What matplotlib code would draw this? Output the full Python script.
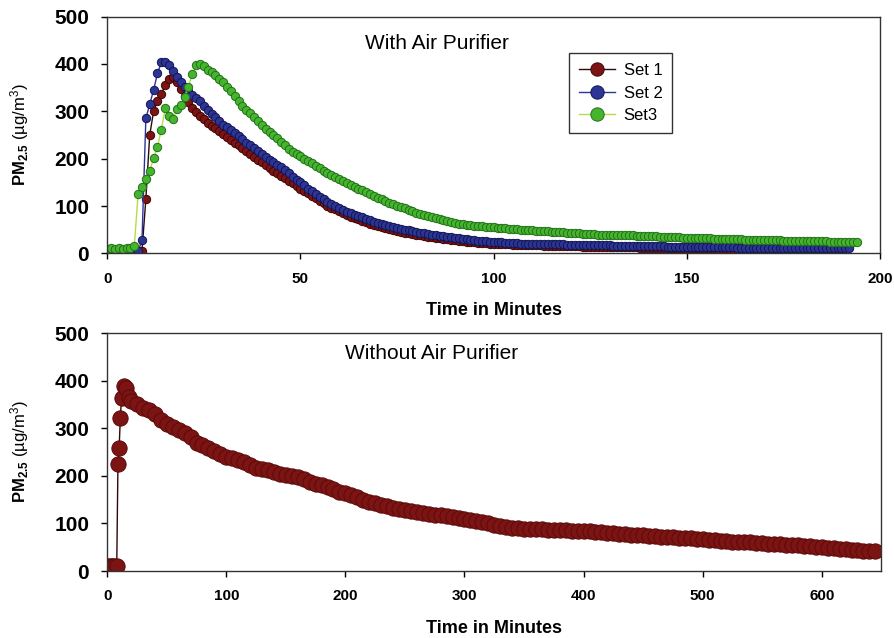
import matplotlib
matplotlib.use("Agg")
import matplotlib.pyplot as plt

plt.rcParams["font.family"] = ["Liberation Sans", "DejaVu Sans"]
plt.rcParams["mathtext.fontset"] = "custom"
plt.rcParams["mathtext.rm"] = "Liberation Sans"
plt.rcParams["mathtext.bf"] = "Liberation Sans:bold"
plt.rcParams["mathtext.it"] = "Liberation Sans:italic"

# ---- data ----
# top panel: one reading per minute
top_time = list(range(0, 195))

set1 = [5, 5, 5, 5, 5, 5, 5, 5, 5, 6,
        115, 250, 300, 322, 336, 356, 368, 373, 362, 348,
        333, 320, 308, 298, 290, 283, 276, 270, 264, 258,
        252, 246, 240, 234, 228, 222, 216, 210, 204, 198,
        192, 186,
        180, 175, 170, 164, 159, 153, 148, 142, 137, 132,
        127, 122, 117, 111, 106, 101, 97, 93, 89, 85,
        81, 78, 75, 72, 69, 66, 63, 60, 58, 56,
        54, 52, 50, 48, 46, 44, 43, 41, 40, 38,
        37, 35, 34, 33, 32, 31, 30, 29, 28, 27,
        26, 25, 24, 24, 23, 22, 22, 21, 21, 20,
        20, 19, 19, 18, 18, 18, 18, 17, 17, 17,
        17, 16, 16, 16, 16, 15, 15, 15, 15, 15,
        15, 14, 14, 14, 14, 14, 14, 13, 13, 13,
        13, 13, 13, 13, 13, 13, 12, 12, 12, 12,
        12, 12, 12, 12, 12, 12, 11, 11, 11, 11,
        11, 11, 11, 11, 11, 11, 10, 10, 10, 10,
        10, 10, 10, 10, 10, 10, 10, 10, 10, 10,
        9, 9, 9, 9, 9, 9, 9, 9, 9, 9,
        9, 9, 9, 9, 9, 9, 8, 8, 8]

set2 = [5, 5, 5, 5, 5, 5, 5, 5, 5, 28,
        285, 315, 345, 380, 403, 405, 398, 385, 372, 362,
        352, 343, 335, 328, 322, 312, 303, 295, 287, 279,
        272, 266, 260, 254, 247, 241, 234, 228, 222, 216,
        210, 204,
        198, 193, 187, 182, 176, 169, 162, 156, 150, 144,
        137, 131, 125, 119, 114, 109, 104, 100, 96, 92,
        88, 85, 82, 79, 76, 73, 70, 67, 65, 62,
        60, 58, 56, 54, 52, 50, 49, 47, 46, 44,
        43, 41, 40, 38, 37, 36, 35, 34, 33, 32,
        31, 30, 29, 28, 27, 27, 26, 25, 25, 24,
        24, 23, 23, 22, 22, 21, 21, 21, 21, 20,
        20, 20, 20, 19, 19, 19, 19, 18, 18, 18,
        18, 18, 18, 17, 17, 17, 17, 17, 17, 16,
        16, 16, 16, 16, 16, 15, 15, 15, 15, 15,
        15, 15, 15, 14, 14, 14, 14, 14, 14, 14,
        14, 13, 13, 13, 13, 13, 13, 13, 13, 13,
        13, 12, 12, 12, 12, 12, 12, 12, 12, 12,
        12, 12, 12, 12, 12, 11, 11, 11, 11, 11,
        11, 11, 11, 11, 11, 11, 11, 11, 11, 11, 11]

set3 = [10, 11, 10, 11, 10, 11, 12, 15, 126, 141,
        158, 175, 201, 225, 261, 306, 290, 283, 305, 313,
        330, 352, 378, 397, 399, 395, 388, 382, 377, 368,
        361, 352, 343, 333, 322, 311, 303, 296, 289, 280,
        271, 263,
        256, 250, 243, 235, 228, 221, 215, 210, 205, 200,
        195, 190, 185, 180, 175, 170, 165, 161, 157, 153,
        149, 145, 141, 137, 133, 129, 125, 121, 118, 114,
        111, 107, 104, 101, 98, 95, 92, 89, 86, 83,
        81, 79, 77, 74, 72, 70, 68, 66, 65, 63,
        62, 61, 60, 59, 58, 57, 56, 55, 55, 54,
        54, 53, 52, 51, 51, 50, 50, 49, 49, 48,
        48, 47, 47, 46, 46, 45, 45, 44, 44, 43,
        43, 42, 42, 41, 41, 40, 40, 40, 40, 39,
        39, 38, 38, 38, 38, 37, 37, 36, 36, 36,
        36, 35, 35, 34, 34, 34, 34, 33, 33, 33,
        33, 32, 32, 32, 32, 31, 31, 31, 31, 30,
        30, 30, 30, 29, 29, 29, 29, 28, 28, 28,
        28, 28, 28, 27, 27, 27, 27, 27, 27, 26,
        26, 26, 26, 26, 26, 25, 25, 25, 25, 25, 25, 25, 25]

# bottom panel
bot_time = [0, 2, 4, 6, 8, 9, 10, 11, 12, 14, 16, 18, 20] + list(range(25, 650, 5))
no_purifier = [10, 10, 10, 10, 10, 225, 258, 321, 364, 388, 385, 365, 358,
               350, 343, 338, 330, 318, 308, 302, 296, 290, 281,
               270, 264, 259, 252, 245, 240, 238, 234, 228, 222,
               217, 214, 212, 208, 204, 201, 199, 197, 193, 187,
               183, 180, 176, 172, 167, 164, 160, 155, 150, 145,
               142, 139, 136, 133, 131, 128, 126, 124, 122, 120,
               118, 117, 115, 113, 111, 109, 107, 105, 103, 100,
               97, 94, 92, 91, 90, 89, 89, 88, 88, 87,
               87, 86, 86, 85, 85, 84, 84, 83,
               82, 80, 79, 78, 77, 76, 75, 75, 74, 73,
               72, 71, 71, 70, 69, 69, 68, 67, 66, 65,
               64, 63, 62, 61, 61, 60, 59, 58, 57, 57,
               56, 55, 55, 54, 53, 52, 51, 50, 49, 48,
               47, 46, 45, 44, 43, 42, 41]

series = [
    ("Set 1", set1, "#7d1414", "#3f0505", "#2a0a0a"),
    ("Set 2", set2, "#2c3596", "#121650", "#2c3596"),
    ("Set3", set3, "#46b52e", "#22701a", "#b6dc4a"),
]

fig = plt.figure(figsize=(8.95, 6.38), dpi=100)
ax1 = fig.add_axes([0.1198, 0.6027, 0.8635, 0.3714])
ax2 = fig.add_axes([0.1198, 0.105, 0.8649, 0.373])

for name, vals, face, edge, line in series:
    ax1.plot(top_time[:len(vals)], vals, color=line, lw=1.0,
             marker="o", ms=6.0, mfc=face, mec=edge, mew=0.7, label=name)

ax2.plot(bot_time, no_purifier, color="#2a0a0a", lw=1.0,
         marker="o", ms=11, mfc="#7d1414", mec="#5a0a0a", mew=0.7)

for ax, xmax, xticks in [(ax1, 200, range(0, 201, 50)),
                         (ax2, 650, range(0, 601, 100))]:
    ax.set_xlim(0, xmax)
    ax.set_ylim(0, 500)
    ax.set_xticks(list(xticks))
    ax.set_yticks(range(0, 501, 100))
    ax.tick_params(axis="x", direction="out", length=4, width=1, pad=9,
                   labelsize=11, top=False)
    ax.tick_params(axis="y", direction="out", length=4, width=1, pad=9,
                   labelsize=15, right=False)
    for lab in ax.get_xticklabels() + ax.get_yticklabels():
        lab.set_fontweight("bold")
    for sp in ax.spines.values():
        sp.set_color("#333333")
        sp.set_linewidth(1.0)
    ax.set_xlabel("Time in Minutes", fontsize=13, fontweight="bold")
    ax.xaxis.set_label_coords(0.5, -0.205)
    ax.set_ylabel(r"$\mathbf{PM}_{\mathbf{2.5}}$ (µg/m$^3$)", fontsize=12)
    ax.yaxis.set_label_coords(-0.098, 0.5)

ax1.text(0.427, 0.888, "With Air Purifier", transform=ax1.transAxes,
         ha="center", va="center", fontsize=15)
ax2.text(0.419, 0.916, "Without Air Purifier", transform=ax2.transAxes,
         ha="center", va="center", fontsize=15)

leg = ax1.legend(loc="upper left", bbox_to_anchor=(0.597, 0.846), borderaxespad=0,
                 fontsize=12, fancybox=False, framealpha=1, edgecolor="#333333",
                 handlelength=2.2, handletextpad=0.5, labelspacing=0.45,
                 markerscale=1.6, borderpad=0.6)
leg.get_frame().set_linewidth(1.0)

fig.savefig("out.png", dpi=100)
